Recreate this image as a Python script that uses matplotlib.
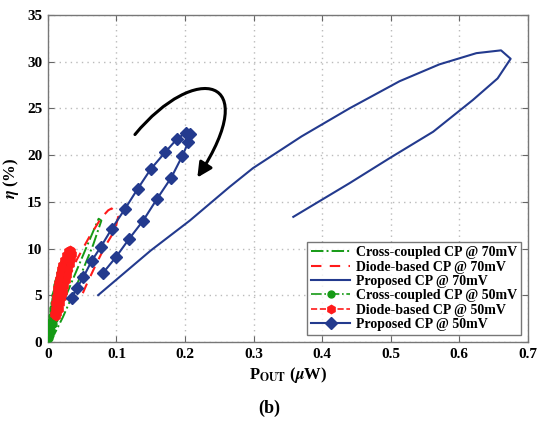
import matplotlib
matplotlib.use("Agg")
import matplotlib.pyplot as plt
from matplotlib.patches import FancyArrowPatch
from matplotlib.path import Path

# ---- data ----
# Cross-coupled CP @ 70mV (thin loop)
cc70_x = [0.003, 0.015, 0.030, 0.045, 0.060, 0.074, 0.078, 0.066, 0.052, 0.037, 0.022, 0.009]
cc70_y = [0.8, 3.0, 5.6, 8.2, 10.8, 13.2, 13.0, 10.4, 7.9, 5.2, 2.7, 0.8]

# Diode-based CP @ 70mV
db70_x = [0.005, 0.015, 0.027, 0.042, 0.060, 0.078, 0.088, 0.093, 0.1025, 0.098, 0.083, 0.0685, 0.056, 0.0466]
db70_y = [1.0, 3.2, 6.3, 8.8, 11.2, 13.3, 14.1, 14.3, 13.4, 12.0, 10.2, 8.06, 6.1, 4.5]

# Proposed CP @ 70mV
pr70_x = [0.0733, 0.150, 0.207, 0.265, 0.299, 0.370, 0.440, 0.513, 0.571, 0.625, 0.661, 0.675,
          0.656, 0.620, 0.562, 0.499, 0.440, 0.358]
pr70_y = [5.03, 9.8, 13.0, 16.6, 18.6, 22.0, 25.0, 27.9, 29.7, 30.9, 31.2, 30.3,
          28.2, 25.9, 22.5, 19.7, 17.0, 13.4]

# Cross-coupled CP @ 50mV (dense markers)
cc50_x = [0.001, 0.002, 0.003, 0.004, 0.005, 0.006, 0.007, 0.008, 0.009, 0.010, 0.011, 0.012,
          0.013, 0.014, 0.015, 0.016, 0.017, 0.018, 0.019, 0.020, 0.021, 0.022, 0.023,
          0.024, 0.023, 0.021, 0.019, 0.017, 0.015, 0.013, 0.011, 0.009, 0.007, 0.005, 0.003]
cc50_y = [0.5, 0.9, 1.4, 1.8, 2.3, 2.8, 3.3, 3.7, 4.2, 4.6, 5.0, 5.4,
          5.8, 6.1, 6.5, 6.8, 7.1, 7.4, 7.7, 8.0, 8.2, 8.4, 8.6,
          8.4, 7.8, 7.0, 6.2, 5.4, 4.6, 3.9, 3.2, 2.5, 1.9, 1.3, 0.8]

# Diode-based CP @ 50mV (dense markers)
db50_x = [0.009, 0.010, 0.011, 0.012, 0.013, 0.014, 0.015, 0.016, 0.017, 0.019, 0.021, 0.023,
          0.026, 0.029, 0.032, 0.034, 0.035, 0.034, 0.032, 0.030, 0.028, 0.026, 0.024,
          0.022, 0.020, 0.018, 0.016, 0.014, 0.012]
db50_y = [3.0, 3.6, 4.2, 4.8, 5.3, 5.8, 6.3, 6.8, 7.3, 7.8, 8.3, 8.8,
          9.3, 9.7, 9.9, 9.8, 9.4, 8.9, 8.4, 7.8, 7.2, 6.6, 6.0,
          5.4, 4.8, 4.2, 3.6, 3.1, 2.8]

# Proposed CP @ 50mV
pr50_x = [0.0345, 0.042, 0.0515, 0.0637, 0.0773, 0.0929, 0.112, 0.131, 0.150, 0.171, 0.188, 0.201, 0.207,
          0.205, 0.196, 0.180, 0.159, 0.139, 0.118, 0.099, 0.0806]
pr50_y = [4.68, 5.75, 6.92, 8.67, 10.2, 12.1, 14.2, 16.4, 18.5, 20.3, 21.7, 22.4, 22.3,
          21.4, 19.9, 17.6, 15.3, 13.0, 11.0, 9.07, 7.42]

x_ticks = [0, 0.1, 0.2, 0.3, 0.4, 0.5, 0.6, 0.7]
x_ticklabels = ["0", "0.1", "0.2", "0.3", "0.4", "0.5", "0.6", "0.7"]
y_ticks = [0, 5, 10, 15, 20, 25, 30, 35]

labels = ["Cross-coupled CP @ 70mV", "Diode-based CP @ 70mV", "Proposed CP @ 70mV",
          "Cross-coupled CP @ 50mV", "Diode-based CP @ 50mV", "Proposed CP @ 50mV"]

# ---- style ----
plt.rcParams['font.family'] = ['Liberation Serif', 'DejaVu Serif']
plt.rcParams['font.weight'] = 'bold'
plt.rcParams['mathtext.fontset'] = 'stix'

GREEN = '#159a15'
RED = '#ff1a1a'
BLUE = '#233a8e'

fig = plt.figure(figsize=(5.38, 4.23), dpi=100)
ax = fig.add_axes([0.089, 0.191, 0.892, 0.774])

ax.plot(cc70_x, cc70_y, color=GREEN, ls='-.', lw=1.4, label=labels[0], zorder=3)
ax.plot(db70_x, db70_y, color=RED, ls=(0, (5, 4)), lw=1.5, label=labels[1], zorder=3)
ax.plot(pr70_x, pr70_y, color=BLUE, ls='-', lw=1.5, label=labels[2], zorder=3)
ax.plot(cc50_x, cc50_y, color=GREEN, ls='-.', lw=1.2, marker='o', ms=5, label=labels[3], zorder=4)
ax.plot(db50_x, db50_y, color=RED, ls='--', lw=1.2, marker='h', ms=6, label=labels[4], zorder=5)
ax.plot(pr50_x, pr50_y, color=BLUE, ls='-', lw=1.5, marker='D', ms=6, label=labels[5], zorder=6)

ax.set_xlim(0, 0.7)
ax.set_ylim(0, 35)
ax.set_xticks(x_ticks)
ax.set_xticklabels(x_ticklabels)
ax.set_yticks(y_ticks)
ax.tick_params(direction='in', top=True, right=True, length=4, color='#666666',
               labelsize=11, pad=4)
for lab in ax.get_xticklabels() + ax.get_yticklabels():
    lab.set_fontweight('bold')
for s in ax.spines.values():
    s.set_color('#777777')
    s.set_linewidth(1.0)
ax.grid(True, ls=(0, (1, 3)), color='#bbbbbb', lw=1.0)
ax.set_axisbelow(True)

ax.set_xlabel(r"P$_{\mathbf{OUT}}$ ($\mu$W)", fontsize=12, fontweight='bold', labelpad=3)
ax.set_ylabel(r"$\eta$ (%)", fontsize=12, fontweight='bold', labelpad=4)

leg = ax.legend(loc='lower right', fontsize=10, frameon=True, fancybox=False,
                edgecolor='#555555', borderpad=0.3, labelspacing=0.1,
                handlelength=2.8, handletextpad=0.4, borderaxespad=0.5)
leg.get_frame().set_linewidth(1.0)
for t in leg.get_texts():
    t.set_fontweight('bold')

# curved arrow annotation
verts = [(0.127, 22.2), (0.215, 30.0), (0.315, 28.5), (0.218, 17.6)]
codes = [Path.MOVETO, Path.CURVE4, Path.CURVE4, Path.CURVE4]
arrow = FancyArrowPatch(path=Path(verts, codes), arrowstyle='-|>', mutation_scale=22,
                        color='black', lw=2.2, zorder=7)
ax.add_patch(arrow)

fig.text(0.5, 0.035, "(b)", ha='center', va='center', fontsize=13, fontweight='bold')

fig.savefig("out.png", dpi=100)
